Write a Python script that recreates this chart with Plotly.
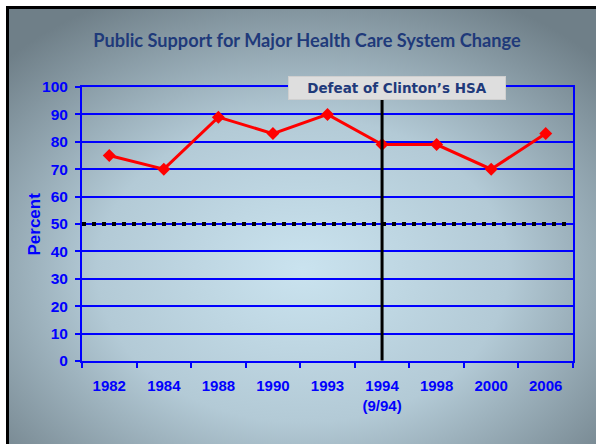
import base64
import plotly.graph_objects as go

# ---- data ----
categories = ["1982", "1984", "1988", "1990", "1993", "1994<br>(9/94)", "1998", "2000", "2006"]
support = [75, 70, 89, 83, 90, 79, 79, 70, 83]
threshold = 50
event_category = "1994<br>(9/94)"
event_label = "Defeat of Clinton’s HSA"
y_ticks = [0, 10, 20, 30, 40, 50, 60, 70, 80, 90, 100]
title_text = "Public Support for Major Health Care System Change"
y_title = "Percent"

W, H = 596, 444
ML, MR, MT, MB = 82, 23, 87, 83
PW, PH = W - ML - MR, H - MT - MB

BLUE = "#0000ff"
NAVY = "#1f3a7a"

svg = (
    f'<svg xmlns="http://www.w3.org/2000/svg" width="{W}" height="{H}" viewBox="0 0 {W} {H}" preserveAspectRatio="none">'
    '<defs><radialGradient id="g" cx="0.5" cy="0.6" r="0.7">'
    '<stop offset="0" stop-color="#cae3ef"/>'
    '<stop offset="0.5" stop-color="#b3cad6"/>'
    '<stop offset="1" stop-color="#6f7f88"/>'
    '</radialGradient></defs>'
    f'<rect width="{W}" height="{H}" fill="white"/>'
    f'<rect x="6" y="6" width="{W-6}" height="{H-6}" fill="black"/>'
    f'<rect x="9" y="9" width="{W-9}" height="{H-9}" fill="url(#g)"/>'
    '</svg>'
)
bg_src = "data:image/svg+xml;base64," + base64.b64encode(svg.encode()).decode()

event_idx = categories.index(event_category)

fig = go.Figure()
fig.add_trace(go.Scatter(
    x=categories, y=support, mode="lines+markers",
    line=dict(color="#ff0000", width=3),
    marker=dict(symbol="diamond", size=10, color="#ff0000"),
    showlegend=False, cliponaxis=False,
))

fig.add_shape(type="line", xref="paper", yref="y", x0=0, x1=0.997, y0=threshold, y1=threshold,
              line=dict(color="black", width=4, dash="4px,6px"), layer="above")
fig.add_shape(type="line", xref="x", yref="y", x0=event_idx, x1=event_idx, y0=0.15, y1=100,
              line=dict(color="black", width=3), layer="above")

fig.add_annotation(
    xref="x", yref="y", x=event_idx, xshift=15, y=99.5,
    text="<b>" + event_label + "</b>", showarrow=False,
    font=dict(family="DejaVu Sans", size=13.5, color=NAVY),
    bgcolor="#dedede", bordercolor="#cfcfcf", borderwidth=1,
    width=214, height=20, borderpad=1, xanchor="center", yanchor="middle",
)
fig.add_annotation(
    xref="paper", yref="paper", x=0, xshift=-48.5, y=0.5,
    text="<b>" + y_title + "</b>", textangle=-90, showarrow=False,
    font=dict(family="Liberation Sans, Arial", size=17, color=BLUE),
    xanchor="center", yanchor="middle",
)

fig.add_layout_image(dict(
    source=bg_src, xref="paper", yref="paper",
    x=-ML / PW, y=1 + MT / PH, sizex=W / PW, sizey=H / PH,
    xanchor="left", yanchor="top", sizing="stretch", layer="below",
))

fig.update_layout(
    width=W, height=H,
    margin=dict(l=ML, r=MR, t=MT, b=MB, pad=0),
    paper_bgcolor="rgba(0,0,0,0)", plot_bgcolor="rgba(0,0,0,0)",
    title=dict(text="<b>" + title_text + "</b>", x=307 / W, xanchor="center", xref="container",
               y=1 - 41 / H, yanchor="middle", yref="container",
               font=dict(family="Lato", size=18.2, color=NAVY)),
    xaxis=dict(
        type="category", categoryorder="array", categoryarray=categories,
        range=[-0.5, len(categories) - 0.5],
        showgrid=False, showline=True, linecolor=BLUE, linewidth=2, mirror=True,
        ticks="outside", tickson="boundaries", ticklen=5, tickwidth=2, tickcolor=BLUE,
        tickfont=dict(family="Liberation Sans Narrow, Arial Narrow, Liberation Sans", size=15, color=BLUE, weight="bold"),
        ticklabelstandoff=10, zeroline=False, fixedrange=True,
    ),
    yaxis=dict(
        range=[0, 100], tickvals=y_ticks, showgrid=True, gridcolor=BLUE, gridwidth=2,
        showline=True, linecolor=BLUE, linewidth=2, mirror=True,
        ticks="outside", ticklen=5, tickwidth=2, tickcolor=BLUE,
        tickfont=dict(family="Liberation Sans, Arial", size=15.5, color=BLUE, weight="bold"),
        ticklabelstandoff=4, zeroline=False, fixedrange=True,
    ),
)

fig.write_html("out.html", config={"displayModeBar": False},
               post_script="document.body.style.margin='0';document.body.style.overflow='hidden';")
